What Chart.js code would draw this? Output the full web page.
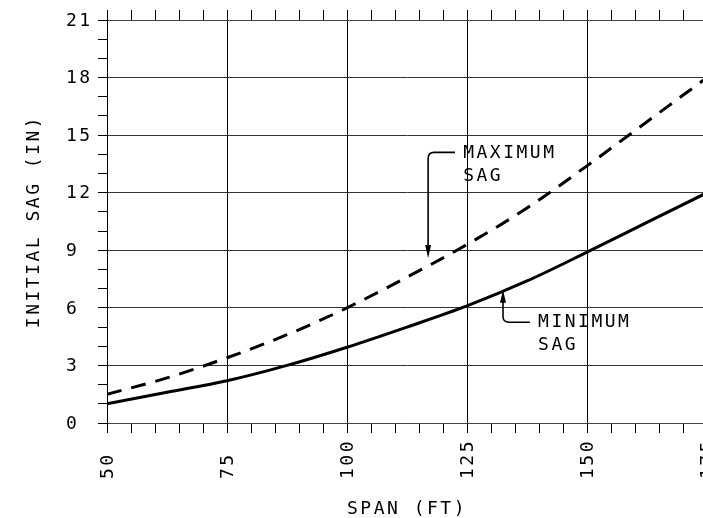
<!DOCTYPE html>
<html>
<head>
<meta charset="utf-8">
<script src="https://cdn.jsdelivr.net/npm/chart.js@4/dist/chart.umd.min.js"></script>
<style>
  html,body{margin:0;padding:0;background:#fff;overflow:hidden;}
  #wrap{width:712px;height:518px;position:relative;}
</style>
</head>
<body>
<div id="wrap"><canvas id="sagChart"></canvas></div>
<script>
// span (ft) vs initial sag (in)
const spans  = [50, 62.5, 75, 87.5, 100, 112.5, 125, 137.5, 150, 162.5, 175];
const maxSag = [1.5, 2.35, 3.4, 4.6, 6.0, 7.6, 9.3, 11.2, 13.4, 15.7, 18.0];
const minSag = [1.0, 1.6, 2.2, 3.0, 3.95, 5.0, 6.1, 7.4, 8.9, 10.45, 12.0];
const spanTicks = [50, 75, 100, 125, 150, 175];
const sagTicks  = [0, 3, 6, 9, 12, 15, 18, 21];

const FAMILY = "'DejaVu Sans Mono', monospace";
const FONT = "18px " + FAMILY;
const SPACING = '2.5px';

// callouts, in data units
const notes = [
  { text:['MAXIMUM','SAG'], tx:124.2, ty:[14.1, 12.9], sx:122.5, sy:14.1, ax:116.9, ay:8.6 },
  { text:['MINIMUM','SAG'], tx:139.8, ty:[5.3, 4.1],  sx:138.1, sy:5.25, ax:132.5, ay:6.95 }
];

const labelsPlugin = {
  id:'labels',
  beforeDraw(chart){ chart.ctx.letterSpacing = SPACING; },
  afterDraw(chart){
    const ctx = chart.ctx, xs = chart.scales.x, ys = chart.scales.y;
    ctx.save();
    ctx.letterSpacing = SPACING;
    ctx.font = FONT;
    ctx.fillStyle = '#000';
    ctx.strokeStyle = '#000';

    // y tick labels (left aligned, like the drawing)
    ctx.textAlign = 'left';
    ctx.textBaseline = 'middle';
    sagTicks.forEach(v => ctx.fillText(String(v), 66, ys.getPixelForValue(v) + 1));

    // x tick labels, rotated, starting from a common baseline
    spanTicks.forEach(v => {
      ctx.save();
      ctx.translate(xs.getPixelForValue(v) + 1, 479);
      ctx.rotate(-Math.PI/2);
      ctx.fillText(String(v), 0, 0);
      ctx.restore();
    });

    // callouts
    notes.forEach(n => {
      n.text.forEach((t,i) => ctx.fillText(t, xs.getPixelForValue(n.tx), ys.getPixelForValue(n.ty[i]) + 1));
      const sx = xs.getPixelForValue(n.sx), sy = ys.getPixelForValue(n.sy);
      const ax = xs.getPixelForValue(n.ax), ay = ys.getPixelForValue(n.ay);
      const dir = Math.sign(ay - sy), r = 6;
      ctx.lineWidth = 1.6;
      ctx.beginPath();
      ctx.moveTo(sx, sy);
      ctx.lineTo(ax + r, sy);
      ctx.quadraticCurveTo(ax, sy, ax, sy + dir*r);
      ctx.lineTo(ax, ay - dir*10);
      ctx.stroke();
      ctx.beginPath();
      ctx.moveTo(ax, ay);
      ctx.lineTo(ax - 3, ay - dir*13);
      ctx.lineTo(ax + 3, ay - dir*13);
      ctx.closePath();
      ctx.fill();
    });
    ctx.restore();
    ctx.letterSpacing = '0px';
  }
};

const ctx = document.getElementById('sagChart').getContext('2d');
new Chart(ctx, {
  type:'line',
  data:{
    datasets:[
      { label:'MAXIMUM SAG', data:spans.map((x,i)=>({x, y:maxSag[i]})),
        borderColor:'#000', borderWidth:3, borderDash:[15,10], pointRadius:0,
        cubicInterpolationMode:'monotone', fill:false },
      { label:'MINIMUM SAG', data:spans.map((x,i)=>({x, y:minSag[i]})),
        borderColor:'#000', borderWidth:3, pointRadius:0,
        cubicInterpolationMode:'monotone', fill:false }
    ]
  },
  options:{
    responsive:true, maintainAspectRatio:false, animation:false, devicePixelRatio:1,
    layout:{padding:{left:0,right:5,top:0,bottom:0}},
    plugins:{legend:{display:false}, tooltip:{enabled:false}},
    scales:{
      x:{type:'linear', position:'bottom', min:50, max:175,
        ticks:{display:false, stepSize:5},
        grid:{color:c=>(c.tick && c.tick.value%25===0)?'#000':'rgba(0,0,0,0)', tickColor:'#000', tickLength:10, lineWidth:1},
        border:{color:'#444', width:1},
        title:{display:true, text:'SPAN (FT)', color:'#000', font:{family:FAMILY, size:18, lineHeight:1}, padding:{top:0,bottom:0}},
        afterFit:s=>{ s.height = 95; }
      },
      x2:{type:'linear', position:'top', min:50, max:175,
        ticks:{display:false, stepSize:5},
        grid:{drawOnChartArea:false, color:'#000', tickLength:10},
        border:{color:'#444', width:1},
        afterFit:s=>{ s.height = 20; }
      },
      y:{type:'linear', min:0, max:21,
        ticks:{display:false, stepSize:1},
        grid:{color:c=>(c.tick && c.tick.value%3===0)?'#333':'rgba(0,0,0,0)', tickColor:'#000', tickLength:9, lineWidth:1},
        border:{color:'#000', width:1},
        title:{display:true, text:'INITIAL SAG (IN)', color:'#000', font:{family:FAMILY, size:18, lineHeight:1}, padding:{top:25,bottom:0}},
        afterFit:s=>{ s.width = 107; }
      }
    }
  },
  plugins:[labelsPlugin]
});
</script>
</body>
</html>
